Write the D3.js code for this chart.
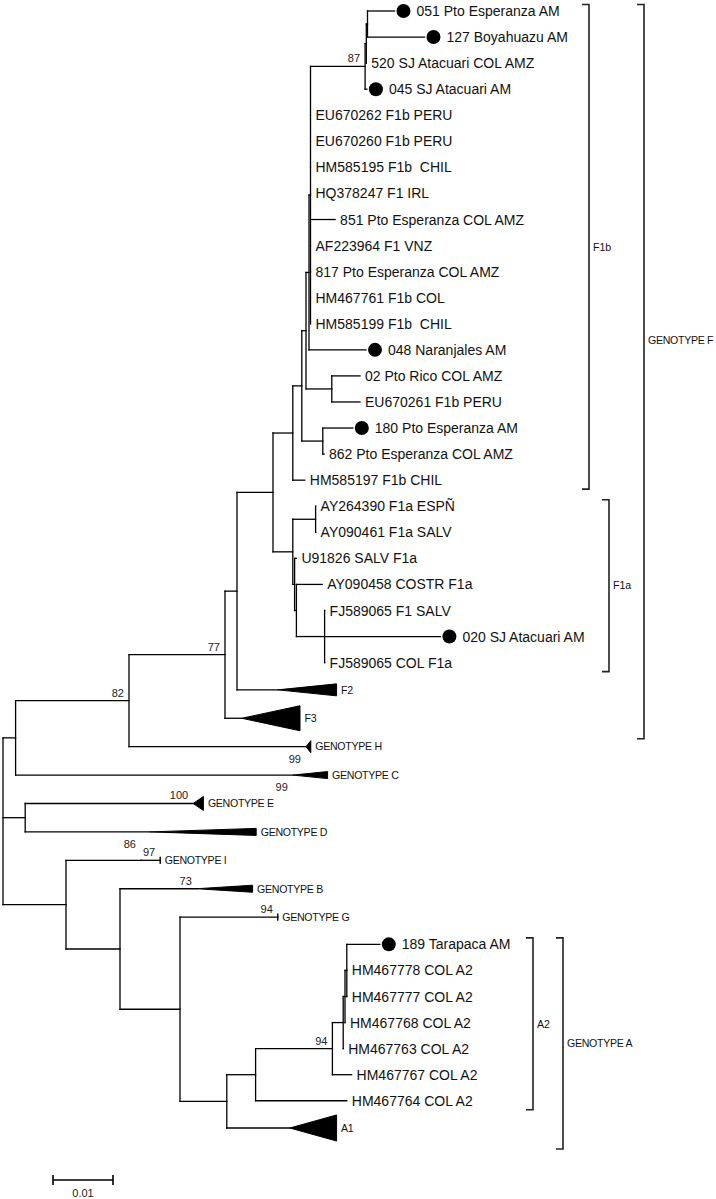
<!DOCTYPE html>
<html><head><meta charset="utf-8">
<script src="https://cdn.jsdelivr.net/npm/d3@7"></script>
<style>
html,body{margin:0;padding:0;background:#fff;}
svg{display:block;}
</style></head><body>
<svg id="chart" width="716" height="1199"></svg>
<script>
// ---------- DATA ----------
// Tree edges: [node, parent, branch length (substitutions/site)]
const edges = [
 ["root", null, 0],
 ["n1", "root", 0.0021],
 ["n82", "n1", 0.0189],
 ["n77", "n82", 0.0160],
 ["n237", "n77", 0.0020],
 ["nF1", "n237", 0.0060],
 ["nF1b", "nF1", 0.0033],
 ["nB", "nF1b", 0.0015],
 ["nC", "nB", 0.0007],
 ["nD", "nC", 0.0005],
 ["nD2", "nD", 0.00025],
 ["n87", "nD2", 0.0091],
 ["nY", "n87", 0.0002],
 ["nX", "nY", 0.0002],
 ["051 Pto Esperanza AM", "nX", 0.0045],
 ["127 Boyahuazu AM", "nX", 0.0095],
 ["520 SJ Atacuari COL AMZ", "nY", 0.0000],
 ["045 SJ Atacuari AM", "n87", 0.0003],
 ["EU670262 F1b PERU", "nD2", 0],
 ["EU670260 F1b PERU", "nD2", 0],
 ["HM585195 F1b  CHIL", "nD2", 0],
 ["HQ378247 F1 IRL", "nD2", 0],
 ["851 Pto Esperanza COL AMZ", "nD2", 0.0041],
 ["AF223964 F1 VNZ", "nD2", 0],
 ["817 Pto Esperanza COL AMZ", "nD2", 0],
 ["HM467761 F1b COL", "nD2", 0],
 ["HM585199 F1b  CHIL", "nD2", 0],
 ["048 Naranjales AM", "nD", 0.0095],
 ["nPR", "nC", 0.0043],
 ["02 Pto Rico COL AMZ", "nPR", 0.0047],
 ["EU670261 F1b PERU", "nPR", 0.0047],
 ["n180", "nB", 0.0035],
 ["180 Pto Esperanza AM", "n180", 0.0050],
 ["862 Pto Esperanza COL AMZ", "n180", 0.0002],
 ["HM585197 F1b CHIL", "nF1b", 0.0020],
 ["nF1a", "nF1", 0.0033],
 ["n316", "nF1a", 0.0038],
 ["AY264390 F1a ESPÑ", "n316", 0],
 ["AY090461 F1a SALV", "n316", 0],
 ["nG", "nF1a", 0.0003],
 ["U91826 SALV F1a", "nG", 0.0003],
 ["nH", "nG", 0.0003],
 ["AY090458 COSTR F1a", "nH", 0.0043],
 ["n325", "nH", 0.0047],
 ["FJ589065 F1 SALV", "n325", 0],
 ["020 SJ Atacuari AM", "n325", 0.0193],
 ["FJ589065 COL F1a", "n325", 0],
 ["F2", "n237", 0.0068],
 ["F3", "n77", 0.0028],
 ["GENOTYPE H", "n82", 0.0295],
 ["GENOTYPE C", "n1", 0.0462],
 ["nED", "root", 0.0037],
 ["GENOTYPE E", "nED", 0.0280],
 ["GENOTYPE D", "nED", 0.0208],
 ["nIBGA", "root", 0.0105],
 ["nI", "nIBGA", 0.0125],
 ["GENOTYPE I", "nI", 0.0032],
 ["nBGA", "nIBGA", 0.0090],
 ["GENOTYPE B", "nBGA", 0.0128],
 ["nGA", "nBGA", 0.0100],
 ["GENOTYPE G", "nGA", 0.0163],
 ["nA", "nGA", 0.0078],
 ["nA2", "nA", 0.0048],
 ["n94", "nA2", 0.0128],
 ["nP", "n94", 0.0018],
 ["nQ", "nP", 0.0003],
 ["nR", "nQ", 0.0003],
 ["189 Tarapaca AM", "nR", 0.0055],
 ["HM467778 COL A2", "nR", 0],
 ["HM467777 COL A2", "nR", 0],
 ["HM467768 COL A2", "nQ", 0],
 ["HM467763 COL A2", "nP", 0],
 ["HM467767 COL A2", "n94", 0.0032],
 ["HM467764 COL A2", "nA2", 0.0152],
 ["A1", "nA", 0.0105]
];

// Collapsed subtrees: [node, subtree depth, spread in rows]
const collapsed = [
 ["F2", 0.0098, 0.46],
 ["F3", 0.0097, 0.96],
 ["GENOTYPE H", 0.0008, 0.46],
 ["GENOTYPE C", 0.0058, 0.27],
 ["GENOTYPE E", 0.0017, 0.54],
 ["GENOTYPE D", 0.0177, 0.27],
 ["GENOTYPE I", 0, 0.27],
 ["GENOTYPE B", 0.0093, 0.27],
 ["GENOTYPE G", 0, 0.27],
 ["A1", 0.0078, 1.0]
];

// Bootstrap values: [node, value]
const bootstrap = [
 ["n87", 87], ["n77", 77], ["n82", 82],
 ["GENOTYPE H", 99], ["GENOTYPE C", 99], ["GENOTYPE E", 100],
 ["nI", 86], ["GENOTYPE I", 97], ["GENOTYPE B", 73],
 ["GENOTYPE G", 94], ["n94", 94]
];

// Isolates from this study (marked with a dot)
const marked = [
 "051 Pto Esperanza AM", "127 Boyahuazu AM", "045 SJ Atacuari AM",
 "048 Naranjales AM", "180 Pto Esperanza AM", "020 SJ Atacuari AM",
 "189 Tarapaca AM"
];

// Clade brackets: [label, first member, last member]
const clades = [
 ["F1b", "051 Pto Esperanza AM", "HM585197 F1b CHIL"],
 ["F1a", "AY264390 F1a ESPÑ", "FJ589065 COL F1a"],
 ["GENOTYPE F", "051 Pto Esperanza AM", "F3"],
 ["A2", "189 Tarapaca AM", "HM467764 COL A2"],
 ["GENOTYPE A", "189 Tarapaca AM", "A1"]
];

const scaleBarValue = 0.01;
const scaleBarLabel = "0.01";

// ---------- LAYOUT ----------
const svg = d3.select("#chart");
const collapsedMap = new Map(collapsed.map(d => [d[0], {depth: d[1], spread: d[2]}]));
const markedSet = new Set(marked);
const bsBelow = new Set(["GENOTYPE H", "GENOTYPE C"]);
const bsRaised = new Set(["nI"]);
const bracketX = {"F1b": 589, "F1a": 609, "GENOTYPE F": 644, "A2": 533, "GENOTYPE A": 563};
const bracketLabelShift = {"GENOTYPE F": -31};

const root = d3.stratify().id(d => d[0]).parentId(d => d[1])(edges);
root.eachBefore(n => { n.dist = n.parent ? n.parent.dist + n.data[2] : 0; });

const x = d3.scaleLinear().domain([0, 0.01]).range([3, 63]);

// vertical positions: cumulative rows
const leaves = root.leaves();
const weight = n => collapsedMap.has(n.id) ? 1.09 : 1;
let pos = 0;
leaves.forEach((n, i) => {
  if (i > 0) pos += (weight(leaves[i - 1]) + weight(n)) / 2;
  n.row = pos;
});
const y = d3.scaleLinear().domain([0, pos]).range([11, 1128]);
const rowPx = y(1) - y(0);
leaves.forEach(n => n.y = y(n.row));
root.eachAfter(n => {
  if (n.children) n.y = (n.children[0].y + n.children[n.children.length - 1].y) / 2;
});
const byId = new Map(root.descendants().map(n => [n.id, n]));

const g = svg.append("g");
const lineCol = "#000";

// horizontal branches
g.selectAll("line.h").data(root.descendants().filter(n => n.parent)).join("line")
  .attr("x1", n => x(n.parent.dist)).attr("x2", n => x(n.dist))
  .attr("y1", n => n.y).attr("y2", n => n.y)
  .attr("stroke", lineCol).attr("stroke-width", 1.3).attr("stroke-linecap", "square");
// vertical connectors
g.selectAll("line.v").data(root.descendants().filter(n => n.children)).join("line")
  .attr("x1", n => x(n.dist)).attr("x2", n => x(n.dist))
  .attr("y1", n => n.children[0].y).attr("y2", n => n.children[n.children.length - 1].y)
  .attr("stroke", lineCol).attr("stroke-width", 1.3).attr("stroke-linecap", "square");

// collapsed triangles
const colNodes = leaves.filter(n => collapsedMap.has(n.id));
g.selectAll("polygon.tri").data(colNodes).join("polygon")
  .attr("points", n => {
    const c = collapsedMap.get(n.id);
    const x0 = x(n.dist), x1 = x(n.dist + c.depth), h = c.spread * rowPx / 2;
    return `${x0},${n.y} ${x1},${n.y - h} ${x1},${n.y + h}`;
  })
  .attr("fill", "#000").attr("stroke", "#000").attr("stroke-width", 1).attr("stroke-linejoin", "miter");

// collapsed labels
g.selectAll("text.col").data(colNodes).join("text")
  .attr("x", n => x(n.dist + collapsedMap.get(n.id).depth) + 4.5)
  .attr("y", n => n.y)
  .attr("dy", "0.36em")
  .attr("font-family", "Liberation Sans, Arial, sans-serif")
  .attr("font-size", 10.6).attr("letter-spacing", -0.3)
  .attr("fill", "#111")
  .text(n => n.id);

// leaf labels & marks
const leafNodes = leaves.filter(n => !collapsedMap.has(n.id));
g.selectAll("circle.mark").data(leafNodes.filter(n => markedSet.has(n.id))).join("circle")
  .attr("cx", n => x(n.dist) + 9).attr("cy", n => n.y).attr("r", 7).attr("fill", "#000");
g.selectAll("text.leaf").data(leafNodes).join("text")
  .attr("x", n => x(n.dist) + (markedSet.has(n.id) ? 22 : 5))
  .attr("y", n => n.y).attr("dy", "0.36em")
  .attr("font-family", "Liberation Sans, Arial, sans-serif")
  .attr("font-size", 14).attr("fill", "#111")
  .style("white-space", "pre")
  .text(n => n.id);

// bootstrap values
g.selectAll("text.bs").data(bootstrap).join("text")
  .attr("x", d => x(byId.get(d[0]).dist) - 5)
  .attr("y", d => {
    const n = byId.get(d[0]);
    if (bsBelow.has(d[0])) return n.y + 12;
    if (bsRaised.has(d[0])) return n.y - 16;
    return n.y - 8;
  })
  .attr("dy", "0.36em").attr("text-anchor", "end")
  .attr("font-family", "Liberation Sans, Arial, sans-serif")
  .attr("font-size", 11).attr("fill", "#222")
  .text(d => d[1]);

// brackets
const halfH = n => collapsedMap.has(n.id) ? collapsedMap.get(n.id).spread * rowPx / 2 : 1;
clades.forEach(([label, a, b]) => {
  const na = byId.get(a), nb = byId.get(b);
  const top = na.y - 6.5 - (halfH(na) - 1), bot = nb.y + 8 + halfH(nb);
  const bx = bracketX[label];
  g.append("path")
    .attr("d", `M${bx - 7},${top}H${bx}V${bot}H${bx - 7}`)
    .attr("fill", "none").attr("stroke", "#222").attr("stroke-width", 1.6);
  g.append("text")
    .attr("x", bx + 4).attr("y", (top + bot) / 2 + (bracketLabelShift[label] || 0))
    .attr("dy", "0.36em")
    .attr("font-family", "Liberation Sans, Arial, sans-serif")
    .attr("font-size", 10.6)
    .attr("letter-spacing", label.length > 3 ? -0.3 : 0)
    .attr("fill", "#111")
    .text(label);
});

// scale bar
const sbX0 = 53, sbY = 1180;
const sbX1 = sbX0 + (x(scaleBarValue) - x(0));
const sb = g.append("g");
sb.append("line").attr("x1", sbX0).attr("x2", sbX1).attr("y1", sbY).attr("y2", sbY)
  .attr("stroke", "#000").attr("stroke-width", 1.3);
[sbX0, sbX1].forEach(v => sb.append("line").attr("x1", v).attr("x2", v)
  .attr("y1", sbY - 5).attr("y2", sbY + 5).attr("stroke", "#000").attr("stroke-width", 1.6));
sb.append("text").attr("x", (sbX0 + sbX1) / 2).attr("y", sbY + 13).attr("dy", "0.36em")
  .attr("text-anchor", "middle").attr("font-family", "Liberation Sans, Arial, sans-serif")
  .attr("font-size", 11).attr("fill", "#222").text(scaleBarLabel);
</script>
</body></html>
